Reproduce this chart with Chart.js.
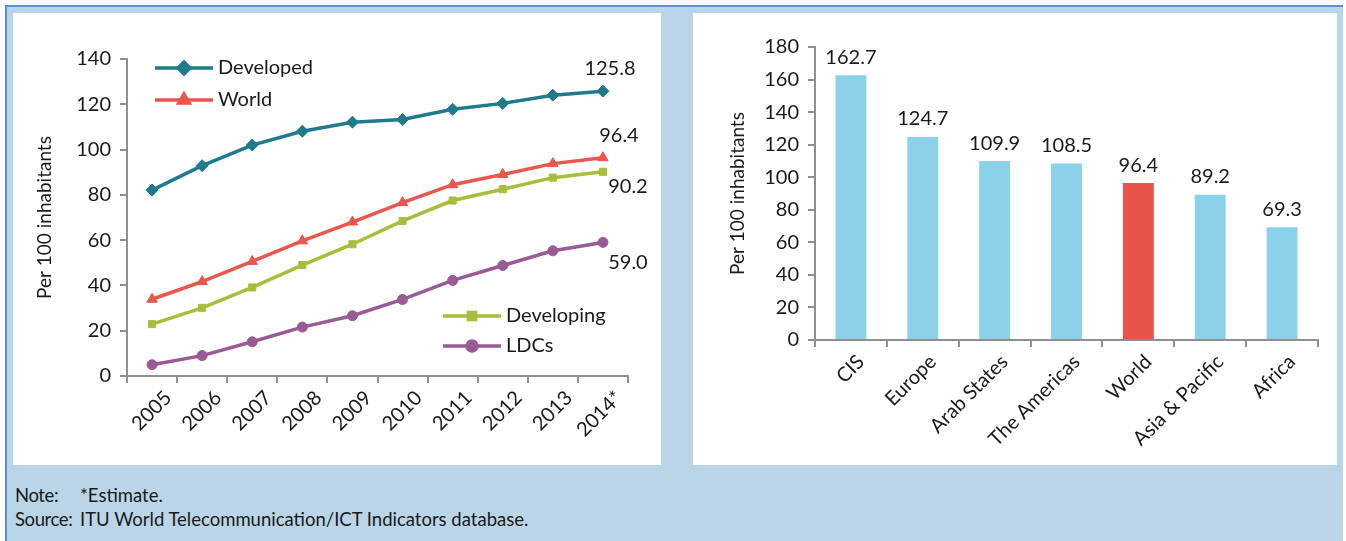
<!DOCTYPE html>
<html>
<head>
<meta charset="utf-8">
<title>Mobile-cellular subscriptions per 100 inhabitants</title>
<script src="https://cdn.jsdelivr.net/npm/chart.js@4.4.0/dist/chart.umd.min.js"></script>
<style>
    html, body { margin: 0; padding: 0; background: #ffffff; }
    body { width: 1346px; height: 541px; position: relative; overflow: hidden; font-family: Lato, sans-serif; }
    .frame {
        position: absolute; left: 5px; top: 5px; width: 1336px; height: 540px;
        border-top: 2px solid #5a8dd2; border-left: 2px solid #5a8dd2;
        background: #b9d5e7;
    }
    .panel { position: absolute; top: 13px; height: 452px; background: #ffffff; }
    #leftPanel { left: 13px; width: 648px; }
    #rightPanel { left: 693px; width: 644px; }
    .notes { position: absolute; left: 15px; top: 483px; font-size: 18.5px; color: #1a1a1a; line-height: 24px; }
    .notes span { display: inline-block; width: 65px; letter-spacing: -0.4px; }
</style>
</head>
<body>
<div class="frame"></div>
<div class="panel" id="leftPanel"><canvas id="trendChart" width="648" height="452"></canvas></div>
<div class="panel" id="rightPanel"><canvas id="regionChart" width="644" height="452"></canvas></div>
<div class="notes">
    <div><span>Note:</span>*Estimate.</div>
    <div><span>Source:</span>ITU World Telecommunication/ICT Indicators database.</div>
</div>

<script>
// Subscriptions per 100 inhabitants, by development level
const years = ['2005', '2006', '2007', '2008', '2009', '2010', '2011', '2012', '2013', '2014*'];
const developed = [82.1, 92.9, 102.0, 108.1, 112.1, 113.3, 117.8, 120.4, 124.0, 125.8];
const world = [33.9, 41.7, 50.6, 59.7, 68.0, 76.6, 84.5, 89.0, 93.8, 96.4];
const developing = [22.9, 30.1, 39.1, 49.0, 58.2, 68.5, 77.5, 82.5, 87.6, 90.2];
const ldcs = [5.0, 9.0, 15.1, 21.6, 26.6, 33.8, 42.2, 48.8, 55.3, 59.0];
const trendTicks = [0, 20, 40, 60, 80, 100, 120, 140];

// 2014 estimate, by region
const regions = ['CIS', 'Europe', 'Arab States', 'The Americas', 'World', 'Asia & Pacific', 'Africa'];
const regionValues = [162.7, 124.7, 109.9, 108.5, 96.4, 89.2, 69.3];
const regionTicks = [0, 20, 40, 60, 80, 100, 120, 140, 160, 180];

const FONT = 'Lato';
const TEXT = '#1a1a1a';
const AXIS = '#8f8f8f';

// where the end-of-line value labels sit, relative to the last point
const endLabelOffsets = [
    { dx: 7, dy: -23 },
    { dx: 16, dy: -22 },
    { dx: 25, dy: 15 },
    { dx: 25, dy: 20 }
];

// legend entries drawn inside the plot: [dataset index, x, y]
const legendSpots = [
    [0, 142, 55],
    [1, 142, 87],
    [2, 430, 303],
    [3, 430, 333]
];

const endLabels = {
    id: 'endLabels',
    afterDatasetsDraw(chart) {
        const ctx = chart.ctx;
        ctx.save();
        ctx.font = '20px ' + FONT;
        ctx.fillStyle = TEXT;
        ctx.textAlign = 'center';
        ctx.textBaseline = 'middle';
        chart.data.datasets.forEach(function(ds, i) {
            const meta = chart.getDatasetMeta(i);
            const last = meta.data[meta.data.length - 1];
            const off = endLabelOffsets[i];
            ctx.fillText(ds.data[ds.data.length - 1].toFixed(1), last.x + off.dx, last.y + off.dy);
        });
        ctx.restore();
    }
};

const insideLegend = {
    id: 'insideLegend',
    afterDraw(chart) {
        const ctx = chart.ctx;
        ctx.save();
        legendSpots.forEach(function(spot) {
            const ds = chart.data.datasets[spot[0]];
            const x = spot[1], y = spot[2];
            ctx.strokeStyle = ds.borderColor;
            ctx.lineWidth = 3.5;
            ctx.beginPath();
            ctx.moveTo(x, y);
            ctx.lineTo(x + 58, y);
            ctx.stroke();
            ctx.fillStyle = ds.borderColor;
            Chart.helpers.drawPoint(ctx, {
                pointStyle: ds.pointStyle,
                radius: ds.pointRadius,
                rotation: 0,
                borderWidth: 1
            }, x + 29, y);
            ctx.fillStyle = TEXT;
            ctx.font = '20px ' + FONT;
            ctx.textAlign = 'left';
            ctx.textBaseline = 'middle';
            ctx.fillText(ds.label, x + 63, y);
        });
        ctx.restore();
    }
};

const barLabels = {
    id: 'barLabels',
    afterDatasetsDraw(chart) {
        const ctx = chart.ctx;
        const meta = chart.getDatasetMeta(0);
        ctx.save();
        ctx.font = '20px ' + FONT;
        ctx.fillStyle = TEXT;
        ctx.textAlign = 'center';
        ctx.textBaseline = 'bottom';
        meta.data.forEach(function(bar, i) {
            ctx.fillText(chart.data.datasets[0].data[i].toFixed(1), bar.x, bar.y - 8);
        });
        ctx.restore();
    }
};

function lineSeries(label, data, color, style, radius) {
    return {
        label: label,
        data: data,
        borderColor: color,
        backgroundColor: color,
        borderWidth: 3.5,
        pointStyle: style,
        pointRadius: radius,
        pointBorderWidth: 1,
        tension: 0
    };
}

function valueAxis(max, width, titlePad, tickPad) {
    return {
        min: 0,
        max: max,
        afterFit: function(scale) { scale.width = width; },
        afterBuildTicks: function(scale) {
            const list = max === 140 ? trendTicks : regionTicks;
            scale.ticks = list.map(function(v) { return { value: v }; });
        },
        border: { color: AXIS, width: 2 },
        grid: { drawOnChartArea: false, drawTicks: true, tickLength: 7, color: AXIS, lineWidth: 2 },
        ticks: { color: TEXT, font: { family: FONT, size: 20 }, padding: tickPad },
        title: {
            display: true,
            text: 'Per 100 inhabitants',
            color: TEXT,
            font: { family: FONT, size: 19 },
            padding: { top: titlePad, bottom: 0 }
        }
    };
}

function categoryAxis(height, labelOffset) {
    return {
        offset: true,
        afterFit: function(scale) { scale.height = height; },
        border: { color: AXIS, width: 2 },
        grid: { offset: true, drawOnChartArea: false, drawTicks: true, tickLength: 7, color: AXIS, lineWidth: 2 },
        ticks: {
            color: TEXT,
            font: { family: FONT, size: 20 },
            minRotation: 45,
            maxRotation: 45,
            padding: 3,
            labelOffset: labelOffset,
            autoSkip: false
        }
    };
}

new Chart(document.getElementById('trendChart'), {
    type: 'line',
    data: {
        labels: years,
        datasets: [
            lineSeries('Developed', developed, '#1f7b8c', 'rectRot', 6),
            lineSeries('World', world, '#e8564c', 'triangle', 6),
            lineSeries('Developing', developing, '#a9bd3c', 'rect', 5),
            lineSeries('LDCs', ldcs, '#9a5a94', 'circle', 5)
        ]
    },
    options: {
        responsive: false,
        animation: false,
        layout: { padding: { top: 46, right: 33, left: 0, bottom: 0 } },
        plugins: { legend: { display: false }, tooltip: { enabled: false } },
        scales: {
            x: categoryAxis(89, 16),
            y: valueAxis(140, 114, 20, 9)
        }
    },
    plugins: [endLabels, insideLegend]
});

new Chart(document.getElementById('regionChart'), {
    type: 'bar',
    data: {
        labels: regions,
        datasets: [{
            data: regionValues,
            backgroundColor: regions.map(function(r) { return r === 'World' ? '#e8544b' : '#8bd1ea'; }),
            categoryPercentage: 1,
            barPercentage: 0.43
        }]
    },
    options: {
        responsive: false,
        animation: false,
        layout: { padding: { top: 34, right: 19, left: 0, bottom: 0 } },
        plugins: { legend: { display: false }, tooltip: { enabled: false } },
        scales: {
            x: categoryAxis(125, 10),
            y: valueAxis(180, 122, 33, 9)
        }
    },
    plugins: [barLabels]
});
</script>
</body>
</html>
